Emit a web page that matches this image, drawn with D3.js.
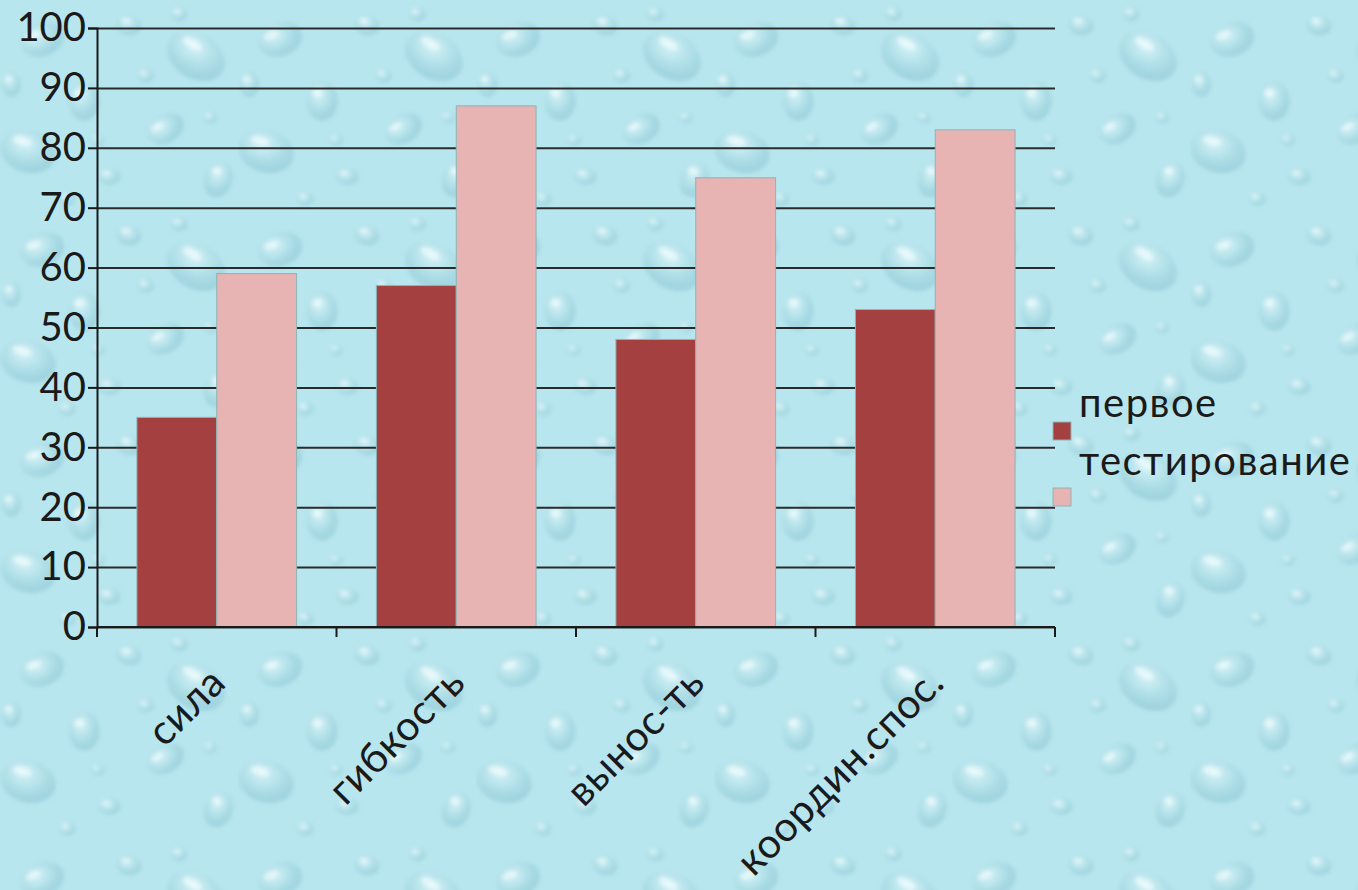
<!DOCTYPE html>
<html>
<head>
<meta charset="utf-8">
<script src="https://cdn.jsdelivr.net/npm/d3@7"></script>
<style>
  html, body { margin: 0; padding: 0; background: #b6e5ec; }
  svg { display: block; }
  text { font-family: Lato, "Noto Sans", sans-serif; fill: #1a1a1a; }
</style>
</head>
<body>
<svg id="chart" width="1358" height="890"></svg>
<script>
// Test results by physical quality
const categories = ["сила", "гибкость", "вынос-ть", "координ.спос."];
const seriesNames = ["первое тестирование", ""];
const firstTest = [35, 57, 48, 53];
const secondTest = [59, 87, 75, 83];
const yTicks = [0, 10, 20, 30, 40, 50, 60, 70, 80, 90, 100];
const seriesColors = ["#a4403f", "#e7b3b3"];

const svg = d3.select("#chart");
const W = 1358, H = 890;
const margin = { left: 97, right: 303, top: 28, bottom: 263 };
const plotW = W - margin.left - margin.right;
const plotH = H - margin.top - margin.bottom;

// ---- water-drop backdrop ----
const defs = svg.append("defs");
const drop = defs.append("radialGradient").attr("id", "drop")
  .attr("cx", "40%").attr("cy", "35%").attr("r", "70%");
drop.append("stop").attr("offset", "0%").attr("stop-color", "#e9fbfd");
drop.append("stop").attr("offset", "55%").attr("stop-color", "#a6d8e2");
drop.append("stop").attr("offset", "100%").attr("stop-color", "#7fbccb");
defs.append("filter").attr("id", "soft")
  .append("feGaussianBlur").attr("stdDeviation", 1.4);

const tile = defs.append("pattern").attr("id", "drops")
  .attr("patternUnits", "userSpaceOnUse").attr("width", 238).attr("height", 210);
tile.append("rect").attr("width", 238).attr("height", 210).attr("fill", "#b8e6ee");
const dropShapes = [
  [30, 28, 16, 12, -20], [92, 18, 9, 7, 10], [140, 40, 22, 16, 30],
  [60, 72, 11, 14, 0], [118, 92, 14, 10, -30], [20, 108, 20, 15, 15],
  [78, 126, 8, 6, 0], [156, 128, 10, 13, 20], [48, 142, 6, 5, 0],
  [104, 54, 6, 5, 0], [8, 60, 7, 9, 0], [150, 84, 5, 4, 0],
  [70, 100, 5, 4, 0], [128, 10, 6, 5, 0]
];
const dg = tile.append("g").attr("filter", "url(#soft)").attr("transform", "scale(1.4)");
dropShapes.forEach(([cx, cy, rx, ry, a]) => {
  const g = dg.append("g").attr("transform", `translate(${cx},${cy}) rotate(${a})`);
  g.append("ellipse").attr("rx", rx).attr("ry", ry)
    .attr("fill", "url(#drop)").attr("opacity", 0.55);
  g.append("ellipse").attr("cx", -rx * 0.3).attr("cy", -ry * 0.4)
    .attr("rx", rx * 0.35).attr("ry", ry * 0.2)
    .attr("fill", "#f4feff").attr("opacity", 0.7);
});
svg.append("rect").attr("width", W).attr("height", H).attr("fill", "url(#drops)");

// ---- scales ----
const x = d3.scaleBand().domain(categories).range([margin.left, margin.left + plotW]);
const xs = d3.scaleBand().domain(d3.range(seriesNames.length))
  .range([0, x.bandwidth()]).paddingOuter(0.5);
const y = d3.scaleLinear().domain([0, 100]).range([margin.top + plotH, margin.top]);

// ---- gridlines ----
svg.append("g")
  .attr("transform", `translate(${margin.left},0)`)
  .call(d3.axisLeft(y).tickValues(yTicks).tickSize(-plotW).tickFormat(""))
  .call(g => g.select(".domain").remove())
  .call(g => g.selectAll("line").attr("stroke", "#2b2b2b").attr("stroke-width", 2));

// ---- bars ----
const data = categories.map((c, i) => ({ cat: c, vals: [firstTest[i], secondTest[i]] }));
const groups = svg.append("g").selectAll("g").data(data).join("g")
  .attr("transform", d => `translate(${x(d.cat)},0)`);
groups.selectAll("rect").data(d => d.vals.map((v, s) => ({ v, s }))).join("rect")
  .attr("x", d => xs(d.s))
  .attr("width", xs.bandwidth())
  .attr("y", d => y(d.v))
  .attr("height", d => y(0) - y(d.v))
  .attr("fill", d => seriesColors[d.s])
  .attr("stroke", "#8fb3b5")
  .attr("stroke-width", 1);

// ---- y axis ----
svg.append("g")
  .attr("transform", `translate(${margin.left},0)`)
  .call(d3.axisLeft(y).tickValues(yTicks).tickSize(9).tickPadding(2))
  .call(g => g.select(".domain").attr("stroke", "#1a1a1a").attr("stroke-width", 2))
  .call(g => g.selectAll("line").attr("stroke", "#1a1a1a").attr("stroke-width", 2))
  .call(g => g.selectAll("text").attr("font-size", 40).attr("fill", "#1a1a1a")
    .attr("font-family", "Lato, 'Noto Sans', sans-serif"));

// ---- x axis ----
const xAxisY = y(0);
svg.append("line")
  .attr("x1", margin.left).attr("x2", margin.left + plotW)
  .attr("y1", xAxisY).attr("y2", xAxisY)
  .attr("stroke", "#1a1a1a").attr("stroke-width", 2);
const boundaries = categories.map(c => x(c)).concat([margin.left + plotW]);
svg.append("g").selectAll("line").data(boundaries).join("line")
  .attr("x1", d => d).attr("x2", d => d)
  .attr("y1", xAxisY).attr("y2", xAxisY + 10)
  .attr("stroke", "#1a1a1a").attr("stroke-width", 2);

svg.append("g").selectAll("text").data(categories).join("text")
  .attr("transform", c => `translate(${x(c) + x.bandwidth() / 2 + 11},${xAxisY + 58}) rotate(-45)`)
  .attr("text-anchor", "end")
  .attr("font-size", 41)
  .attr("letter-spacing", 0.5)
  .text(c => c);

// ---- legend ----
const legend = svg.append("g");
const legendRows = [
  { color: seriesColors[0], y: 422, lines: seriesNames[0].split(" ") },
  { color: seriesColors[1], y: 488, lines: seriesNames[1] ? [seriesNames[1]] : [] }
];
legendRows.forEach(r => {
  legend.append("rect")
    .attr("x", 1053).attr("y", r.y).attr("width", 18).attr("height", 18)
    .attr("fill", r.color).attr("stroke", "#8fb3b5").attr("stroke-width", 1);
});
legend.append("text")
  .attr("x", 1079).attr("y", 417)
  .attr("font-size", 40)
  .attr("letter-spacing", 1.5)
  .selectAll("tspan").data(legendRows[0].lines).join("tspan")
  .attr("x", 1079).attr("dy", (d, i) => i === 0 ? 0 : 58)
  .text(d => d);
</script>
</body>
</html>
